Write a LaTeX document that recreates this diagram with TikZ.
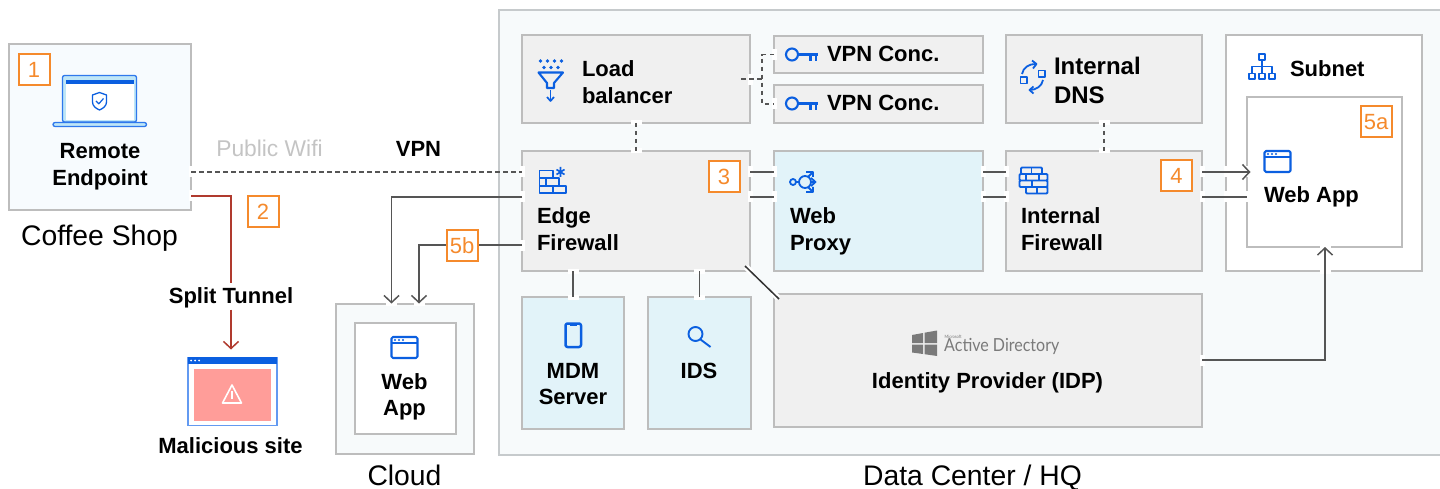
\documentclass[tikz,border=0pt]{standalone}
\usepackage{fontspec}
\setmainfont{Liberation Sans}
\newfontfamily\adfont[FakeStretch=0.89]{Lato}
\usetikzlibrary{arrows.meta,calc}
\definecolor{bord}{HTML}{BDBDBD}
\definecolor{hqbord}{HTML}{C6CACC}
\definecolor{greyfill}{HTML}{F0F0F0}
\definecolor{bluefill}{HTML}{E2F3F9}
\definecolor{palefill}{HTML}{F7FAFB}
\definecolor{remfill}{HTML}{F7FBFE}
\definecolor{orangeb}{HTML}{F58A2C}
\definecolor{iconblue}{HTML}{0B5FE0}
\definecolor{conn}{HTML}{555555}
\definecolor{redline}{HTML}{B03A2E}
\definecolor{pinkish}{HTML}{FF9D99}
\definecolor{lapblue}{HTML}{2F78EC}
\definecolor{lapfill}{HTML}{BFE6F7}
\definecolor{wifi}{HTML}{C4C4C4}
\definecolor{adgrey}{HTML}{7A7A7A}
\tikzset{
  boxbase/.style={draw=bord,line width=2pt,inner sep=0pt,outer sep=0pt,anchor=north west},
  greybox/.style={boxbase,fill=greyfill},
  bluebox/.style={boxbase,fill=bluefill},
  whitebox/.style={boxbase,fill=white},
  palebox/.style={boxbase,fill=palefill},
  hqbox/.style={boxbase,draw=hqbord,fill=palefill},
  rembox/.style={boxbase,fill=remfill},
  badgebox/.style={draw=orangeb,line width=2pt,fill=white,inner sep=0pt,outer sep=0pt,anchor=north west,
    minimum width=31pt,minimum height=31pt,text=orangeb,font=\fontsize{22}{22}\selectfont},
  dashconn/.style={draw=conn,line width=1.5pt,dash pattern=on 4.5pt off 3.5pt},
  solidconn/.style={draw=conn,line width=1.5pt},
  arrowconn/.style={solidconn,-{Straight Barb[length=7pt,width=15pt,line width=1.5pt]}},
  redconn/.style={draw=redline,line width=1.5pt},
  bt/.style={font=\fontsize{22}{22}\selectfont\bfseries,inner sep=0pt,outer sep=0pt},
  bigbt/.style={font=\fontsize{24}{24}\selectfont\bfseries,inner sep=0pt,outer sep=0pt},
  captxt/.style={font=\fontsize{28.3}{28.3}\selectfont,inner sep=0pt,outer sep=0pt},
  icon/.style={draw=iconblue,line width=2.1pt,line join=round},
}
\newcommand{\bx}[6]{\node[#1,minimum width={(#5-#3)*1pt},minimum height={(#6-#4)*1pt}] (#2) at (#3,#4) {};}
\newcommand{\lbl}[6]{\node[#1,anchor=#2] (#3) at (#4,#5) {#6};}
\newcommand{\badge}[4]{\node[badgebox] (#1) at (#2,#3) {#4};}
\newcommand{\gaph}[2]{\fill[white] (#1-2.5,#2-5.5) rectangle (#1+2.5,#2+5.5);}
\newcommand{\gapv}[2]{\fill[white] (#1-5.5,#2-2.5) rectangle (#1+5.5,#2+2.5);}
\newcommand{\browsericon}[2]{%
  \draw[icon,rounded corners=1.5pt] (#1,#2) rectangle (#1+26,#2+21);
  \draw[icon] (#1,#2+6) -- (#1+26,#2+6);
  \fill[iconblue] (#1+3.5,#2+3) circle (1.1) (#1+7.5,#2+3) circle (1.1) (#1+11.5,#2+3) circle (1.1);}
\newcommand{\keyicon}[2]{%
  \draw[icon] (#1+6.5,#2) circle (6);
  \draw[icon] (#1+12.5,#2) -- (#1+32,#2) (#1+25,#2) -- (#1+25,#2+6.5) (#1+30.5,#2) -- (#1+30.5,#2+6.5);}
\begin{document}
\begin{tikzpicture}[x=1pt,y=-1pt]
\useasboundingbox (0,0) rectangle (1440,489);
% containers
\bx{hqbox}{hq}{498.5}{10.5}{1444}{454.5}
\bx{rembox}{remote}{8.5}{44.5}{191}{210}
\bx{palebox}{cloud}{335.5}{303.5}{474}{454}
\bx{whitebox}{cloudapp}{354.5}{323}{456}{434}
% boxes
\bx{greybox}{lb}{522}{35}{750}{123}
\bx{greybox}{conca}{774}{36}{983}{73.5}
\bx{greybox}{concb}{774}{85}{983}{123}
\bx{greybox}{dns}{1006}{35}{1202}{123}
\bx{whitebox}{subnet}{1226}{35}{1422}{271}
\bx{whitebox}{subapp}{1246.5}{97}{1402}{247}
\bx{greybox}{edge}{522}{151}{750}{271}
\bx{bluebox}{proxy}{774}{151}{983}{271}
\bx{greybox}{intfw}{1006}{151}{1202}{271}
\bx{bluebox}{mdm}{522}{297}{624}{429}
\bx{bluebox}{ids}{648}{297}{750.5}{429}
\bx{greybox}{idp}{774}{294}{1202}{427}
% malicious site window
\node[draw=lapblue!75,line width=1.4pt,fill=white,inner sep=0pt,outer sep=0pt,anchor=north west,minimum width=89pt,minimum height=68pt] (mal) at (188,357.5) {};
\fill[iconblue] (187.5,357) rectangle (277,364);
\fill[white] (191,360.5) circle (1) (195,360.5) circle (1) (199,360.5) circle (1);
\fill[pinkish] (194,369) rectangle (271,421);
\draw[white,line width=1.6pt,line join=round] (232,385) -- (241.5,403) -- (222.5,403) -- cycle;
\draw[white,line width=1.6pt] (232,391) -- (232,399);
% helper coordinates
\coordinate (ya) at (0,172);
\coordinate (yb) at (0,197);
\coordinate (yc) at (0,245);
\coordinate (yd) at (0,196);
\coordinate (ye) at (0,360);
\coordinate (xa) at (391.5,0);
\coordinate (xb) at (419,0);
\coordinate (xc) at (1325,0);
\coordinate (xd) at (762,0);
\coordinate (xe) at (231,0);
% border gaps
\gaph{191}{172}\gaph{522}{172}\gaph{191}{196}
\gaph{522}{197}\gaph{522}{245}
\gapv{391.5}{303.5}\gapv{419}{303.5}
\gapv{636}{123}\gapv{636}{151}\gapv{1104}{123}\gapv{1104}{151}
\gaph{750}{80}\gaph{774}{55}\gaph{774}{104}
\gaph{750}{172}\gaph{774}{172}\gaph{983}{172}\gaph{1006}{172}\gaph{1202}{172}\gaph{1226}{172}\gaph{1246.5}{172}
\gaph{750}{197}\gaph{774}{197}\gaph{983}{197}\gaph{1006}{197}\gaph{1202}{197}\gaph{1226}{197}\gaph{1246.5}{197}
\gapv{573}{271}\gapv{573}{297}\gapv{699}{271}\gapv{699}{297}
\gaph{1202}{360}\gapv{1325}{271}\gapv{1325}{247}
\draw[white,line width=6pt] (746,267) -- (752,273);
\draw[white,line width=6pt] (772,292) -- (778,298);
% connectors
\draw[dashconn] (remote.east |- ya) -- (edge.west |- ya);
\draw[dashconn] (lb.south) -- (edge.north);
\draw[dashconn] ([xshift=-9pt]lb.east) -- (xd |- lb.east);
\draw[dashconn] (conca.west) -| (xd |- concb.west) -- (concb.west);
\draw[dashconn] (dns.south) -- (intfw.north);
\draw[solidconn] (edge.east |- ya) -- (proxy.west |- ya);
\draw[solidconn] (edge.east |- yb) -- (proxy.west |- yb);
\draw[solidconn] (proxy.east |- ya) -- (intfw.west |- ya);
\draw[solidconn] (proxy.east |- yb) -- (intfw.west |- yb);
\draw[arrowconn] (intfw.east |- ya) -- ([xshift=4pt]subapp.west |- ya);
\draw[solidconn] (intfw.east |- yb) -- (subapp.west |- yb);
\draw[arrowconn] (edge.west |- yb) -| (xa |- cloud.north);
\draw[arrowconn] (edge.west |- yc) -| (xb |- cloud.north);
\draw[solidconn] (edge.south -| mdm.north) -- (mdm.north);
\draw[solidconn] (edge.south -| ids.north) -- (ids.north);
\draw[solidconn,draw=black!80] ([xshift=-5pt,yshift=5pt]edge.south east) -- ([xshift=5pt,yshift=-5pt]idp.north west);
\draw[arrowconn] (idp.east |- ye) -| (xc |- subapp.south);
% split tunnel
\lbl{bt}{base}{tunnel}{231}{303}{Split Tunnel}
\draw[redconn] (remote.east |- yd) -| ([yshift=4pt]xe |- tunnel.north);
\draw[redconn,-{Straight Barb[length=7pt,width=15pt,line width=1.5pt]}] ([yshift=-2pt]xe |- tunnel.south) -- ([yshift=8pt]xe |- mal.north);
% badges
\badge{bone}{18.5}{54.5}{1}
\badge{btwo}{247.5}{196.5}{2}
\badge{bthree}{708.5}{161}{3}
\badge{bfour}{1161}{160.5}{4}
\badge{bfivea}{1360.5}{106.5}{5a}
\badge{bfiveb}{446.5}{230}{5b}
% laptop
\draw[draw=lapblue,line width=1.3pt,fill=lapfill,rounded corners=2pt] (62.5,122) -- (62.5,75.5) -- (136.5,75.5) -- (136.5,122) -- cycle;
\fill[white] (66,80) rectangle (133.5,120.5);
\fill[iconblue] (66,80) rectangle (133.5,84);
\draw[draw=lapblue,line width=1.3pt,fill=lapfill,rounded corners=2pt] (53,122.5) rectangle (146.5,126.5);
\draw[icon,line width=1.3pt] (99.5,92.5) -- (106.5,95) -- (106.5,102) .. controls (106.5,106) and (103,108.5) .. (99.5,110) .. controls (96,108.5) and (92.5,106) .. (92.5,102) -- (92.5,95) -- cycle;
\draw[icon,line width=1.2pt] (96,101) -- (98.8,103.8) -- (103.5,98.5);
% funnel
\foreach \px in {540.5,547.5,554.5,561.5} {\fill[iconblue] (\px,61) circle (1.9);}
\foreach \px in {544,551,558} {\fill[iconblue] (\px,67.5) circle (1.9);}
\draw[icon] (538.5,72.5) -- (563,72.5) -- (554,83) -- (554,88) -- (547,88) -- (547,83) -- cycle;
\draw[icon,line width=1.7pt] (550.5,90) -- (550.5,100);
\draw[icon,line width=1.7pt] (547,97) -- (550.5,101) -- (554,97);
% keys
\keyicon{785.5}{54.5}
\keyicon{785.5}{103.5}
% DNS icon
\draw[icon,line width=1.8pt] (1020.5,77) rectangle (1027,83.5) (1038.5,70.5) rectangle (1045,77);
\draw[icon,line width=1.8pt] (1022,74) .. controls (1023,68) and (1029,63.5) .. (1036,64);
\draw[icon,line width=1.8pt] (1032,60.5) -- (1036.5,64) -- (1033,68.5);
\draw[icon,line width=1.8pt] (1043,80) .. controls (1042,86) and (1036,90) .. (1030,90);
\draw[icon,line width=1.8pt] (1033.5,86.5) -- (1029.5,90) -- (1033.5,93.5);
% subnet icon
\draw[icon,line width=1.9pt] (1259,54) rectangle (1265,60) (1249,73.5) rectangle (1255,79) (1259,73.5) rectangle (1265,79) (1269,73.5) rectangle (1275,79);
\draw[icon,line width=1.9pt] (1262,60) -- (1262,73.5) (1252,73.5) -- (1252,66.5) -- (1272,66.5) -- (1272,73.5);
% browser icons
\browsericon{1264.5}{151}
\browsericon{391.5}{337}
% edge firewall icon
\draw[icon,line width=1.9pt] (539.5,170.5) rectangle (553,178) (539.5,178) rectangle (546,186) (546,178) rectangle (559,186) (539.5,186) rectangle (553,193) (553,186) rectangle (566,193);
\draw[icon,line width=1.6pt] (560.5,167) -- (560.5,177) (556.5,169.5) -- (564.5,174.5) (564.5,169.5) -- (556.5,174.5);
% web proxy icon
\draw[icon,line width=1.8pt] (793,182) circle (3);
\draw[icon,line width=1.8pt] (805,182) circle (6);
\draw[icon,line width=1.8pt] (796,182) -- (799,182) (811,182) -- (815,182) (808,177) -- (813,172) (808,187) -- (813,192);
\draw[icon,line width=1.8pt] (806,172) -- (813,172) -- (813,177) (811,178) -- (815.5,182) -- (811,186) (806,192) -- (813,192) -- (813,187);
% internal firewall icon
\draw[icon,line width=1.9pt,rounded corners=1pt] (1021,167.5) rectangle (1042,174) (1019.5,174) rectangle (1047.5,180.5) (1019.5,180.5) rectangle (1047.5,187) (1026,187) rectangle (1047.5,193.5);
\draw[icon,line width=1.9pt] (1031.5,167.5) -- (1031.5,174) (1026,174) -- (1026,180.5) (1039,174) -- (1039,180.5) (1032,180.5) -- (1032,187) (1037,187) -- (1037,193.5);
% phone
\draw[icon,line width=2.5pt,rounded corners=2pt] (565.5,323.5) rectangle (581,347);
\draw[icon,line width=2pt] (570,324.5) -- (576.5,324.5);
% magnifier
\draw[icon,line width=1.9pt] (695.5,334) circle (7);
\draw[icon,line width=1.9pt] (700.5,339.5) -- (710.5,347);
% windows logo
\fill[adgrey] (912,335) -- (923,333) -- (923,343) -- (912,343) -- cycle;
\fill[adgrey] (924.5,332.7) -- (937,330.5) -- (937,343) -- (924.5,343) -- cycle;
\fill[adgrey] (912,344.5) -- (923,344.5) -- (923,354) -- (912,352.5) -- cycle;
\fill[adgrey] (924.5,344.5) -- (937,344.5) -- (937,356) -- (924.5,354.2) -- cycle;
% text
\lbl{bt}{base}{tremote}{100}{158.5}{Remote}
\lbl{bt}{base}{tendpoint}{100}{185.5}{Endpoint}
\lbl{captxt}{base}{tcoffee}{99.5}{245}{Coffee Shop}
\node[font=\fontsize{22.8}{22.8}\selectfont,text=wifi,inner sep=0pt,anchor=base] (twifi) at (269.5,157) {Public Wifi};
\lbl{bt}{base}{tvpn}{418.5}{157}{VPN}
\lbl{bt}{base}{tmal}{230.5}{453}{Malicious site}
\lbl{bt}{base}{tcweb}{404.5}{389}{Web}
\lbl{bt}{base}{tcapp}{404.5}{415.5}{App}
\lbl{captxt}{base}{tcloud}{404.5}{485}{Cloud}
\lbl{captxt}{base}{thq}{972.5}{485}{Data Center / HQ}
\lbl{bt}{base west}{tload}{582}{77}{Load}
\lbl{bt}{base west}{tbal}{582}{104}{balancer}
\lbl{bt}{base west}{tconca}{827}{62}{VPN Conc.}
\lbl{bt}{base west}{tconcb}{827}{111}{VPN Conc.}
\lbl{bigbt}{base west}{tint}{1054}{75}{Internal}
\lbl{bigbt}{base west}{tdnsl}{1054}{104}{DNS}
\lbl{bt}{base west}{tsub}{1290}{77}{Subnet}
\lbl{bt}{base west}{tweb}{1264}{203}{Web App}
\lbl{bt}{base west}{tedge}{537}{223}{Edge}
\lbl{bt}{base west}{tefw}{537}{250}{Firewall}
\lbl{bt}{base west}{twp}{790}{223}{Web}
\lbl{bt}{base west}{tpr}{790}{250}{Proxy}
\lbl{bt}{base west}{tifa}{1021}{223}{Internal}
\lbl{bt}{base west}{tifb}{1021}{250}{Firewall}
\lbl{bt}{base}{tmdm}{573}{378}{MDM}
\lbl{bt}{base}{tsrv}{573}{404}{Server}
\lbl{bt}{base}{tids}{699}{378}{IDS}
\lbl{bt}{base}{tidp}{987.5}{388}{Identity Provider (IDP)}
\node[font=\adfont\fontsize{18}{18}\selectfont,text=adgrey,inner sep=0pt,anchor=base west] (tad) at (944,351) {Active Directory};
\node[font=\adfont\fontsize{4.5}{4.5}\selectfont,text=adgrey,inner sep=0pt,anchor=base west] (tms) at (944.5,338) {Microsoft};
\end{tikzpicture}
\end{document}
